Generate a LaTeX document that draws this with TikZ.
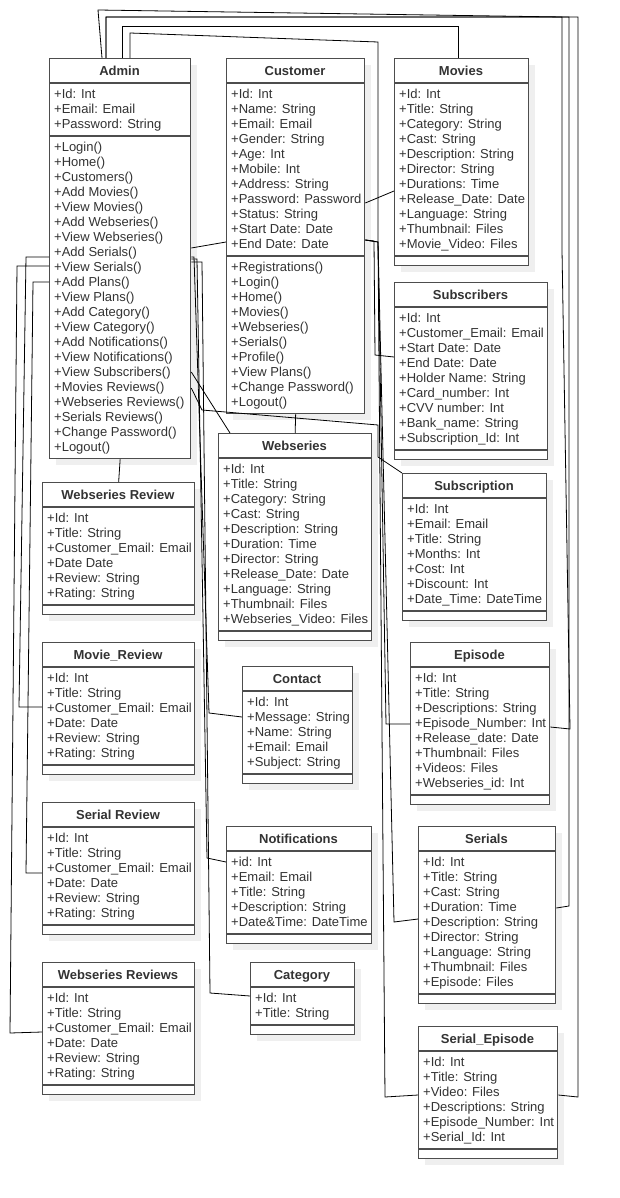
\documentclass[tikz,border=0pt]{standalone}
\usepackage{fontspec}
\setmainfont{Liberation Sans}
\usetikzlibrary{calc}
\definecolor{clsgray}{HTML}{4D4D4D}
\definecolor{txtgray}{HTML}{333333}
\definecolor{shadegray}{HTML}{EFEFEF}
\tikzset{
	clsbox/.style={draw=clsgray, line width=1.3pt, fill=white, inner sep=0pt},
	clsline/.style={draw=clsgray, line width=1.3pt},
	clsshade/.style={fill=shadegray},
	clstitle/.style={font=\fontsize{13}{15}\selectfont\bfseries, text=txtgray, inner sep=0pt, anchor=base},
	clstext/.style={font=\fontsize{13}{15}\selectfont, text=txtgray, align=left, inner sep=0pt, anchor=north west, execute at begin node=\strut},
	conn/.style={draw=black, line width=0.8pt},
}
% name, x, y, width, attribute height, method height, title, attributes, methods
\newcommand{\umlclass}[9]{%
	\fill[clsshade] (#2+7,#3+7) rectangle ++(#4,25+#5+#6);
	\node[clsbox, minimum width=#4, minimum height=25+#5+#6, anchor=north west] (#1) at (#2,#3) {};
	\draw[clsline] (#2,#3+25) -- ++(#4,0);
	\draw[clsline] (#2,#3+25+#5) -- ++(#4,0);
	\node[clstitle] at (#2+#4/2,#3+17.5) {#7};
	\node[clstext] at (#2+5,#3+31) {#8};
	\node[clstext] at (#2+5,#3+31+#5) {#9};
}
\begin{document}
\begin{tikzpicture}[x=1pt, y=-1pt]
		\useasboundingbox[fill=white] (0,0) rectangle (619,1198);

		\umlclass{admin}{49}{58}{141}{53}{322}{Admin}{+Id: Int\\+Email: Email\\+Password: String}{+Login()\\+Home()\\+Customers()\\+Add Movies()\\+View Movies()\\+Add Webseries()\\+View Webseries()\\+Add Serials()\\+View Serials()\\+Add Plans()\\+View Plans()\\+Add Category()\\+View Category()\\+Add Notifications()\\+View Notifications()\\+View Subscribers()\\+Movies Reviews()\\+Webseries Reviews()\\+Serials Reviews()\\+Change Password()\\+Logout()}
		\umlclass{customer}{226}{58}{138}{173}{157}{Customer}{+Id: Int\\+Name: String\\+Email: Email\\+Gender: String\\+Age: Int\\+Mobile: Int\\+Address: String\\+Password: Password\\+Status: String\\+Start Date: Date\\+End Date: Date}{+Registrations()\\+Login()\\+Home()\\+Movies()\\+Webseries()\\+Serials()\\+Profile()\\+View Plans()\\+Change Password()\\+Logout()}
		\umlclass{movies}{394}{58}{134}{173}{9}{Movies}{+Id: Int\\+Title: String\\+Category: String\\+Cast: String\\+Description: String\\+Director: String\\+Durations: Time\\+Release\_Date: Date\\+Language: String\\+Thumbnail: Files\\+Movie\_Video: Files}{}
		\umlclass{subscribers}{394}{282}{153}{143}{9}{Subscribers}{+Id: Int\\+Customer\_Email: Email\\+Start Date: Date\\+End Date: Date\\+Holder Name: String\\+Card\_number: Int\\+CVV number: Int\\+Bank\_name: String\\+Subscription\_Id: Int}{}
		\umlclass{webseries}{218}{433}{153}{173}{9}{Webseries}{+Id: Int\\+Title: String\\+Category: String\\+Cast: String\\+Description: String\\+Duration: Time\\+Director: String\\+Release\_Date: Date\\+Language: String\\+Thumbnail: Files\\+Webseries\_Video: Files}{}
		\umlclass{subscription}{402}{473}{144}{113}{9}{Subscription}{+Id: Int\\+Email: Email\\+Title: String\\+Months: Int\\+Cost: Int\\+Discount: Int\\+Date\_Time: DateTime}{}
		\umlclass{wsreview}{42}{482}{152}{98}{9}{Webseries Review}{+Id: Int\\+Title: String\\+Customer\_Email: Email\\+Date Date\\+Review: String\\+Rating: String}{}
		\umlclass{moviereview}{42}{642}{152}{98}{9}{Movie\_Review}{+Id: Int\\+Title: String\\+Customer\_Email: Email\\+Date: Date\\+Review: String\\+Rating: String}{}
		\umlclass{contact}{242}{666}{110}{83}{9}{Contact}{+Id: Int\\+Message: String\\+Name: String\\+Email: Email\\+Subject: String}{}
		\umlclass{episode}{410}{642}{139}{128}{9}{Episode}{+Id: Int\\+Title: String\\+Descriptions: String\\+Episode\_Number: Int\\+Release\_date: Date\\+Thumbnail: Files\\+Videos: Files\\+Webseries\_id: Int}{}
		\umlclass{serialreview}{42}{802}{152}{98}{9}{Serial Review}{+Id: Int\\+Title: String\\+Customer\_Email: Email\\+Date: Date\\+Review: String\\+Rating: String}{}
		\umlclass{notifications}{226}{826}{145}{83}{9}{Notifications}{+id: Int\\+Email: Email\\+Title: String\\+Description: String\\+Date\&Time: DateTime}{}
		\umlclass{serials}{418}{826}{137}{143}{9}{Serials}{+Id: Int\\+Title: String\\+Cast: String\\+Duration: Time\\+Description: String\\+Director: String\\+Language: String\\+Thumbnail: Files\\+Episode: Files}{}
		\umlclass{wsreviews}{42}{962}{152}{98}{9}{Webseries Reviews}{+Id: Int\\+Title: String\\+Customer\_Email: Email\\+Date: Date\\+Review: String\\+Rating: String}{}
		\umlclass{category}{250}{962}{104}{38}{9}{Category}{+Id: Int\\+Title: String}{}
		\umlclass{serialepisode}{418}{1026}{139}{98}{9}{Serial\_Episode}{+Id: Int\\+Title: String\\+Video: Files\\+Descriptions: String\\+Episode\_Number: Int\\+Serial\_Id: Int}{}

		\draw [conn] (102,0 |- admin.north) -- (98,10) -- (562,17) -- (562,250) -- (570,729) -- (episode.east |- 0,727);
		\draw [conn] (106,0 |- admin.north) -- (106,17) -- (569,17) -- (569,906) -- (serials.east |- 0,908);
		\draw [conn] (106,0 |- admin.north) -- (106,17) -- (578,17) -- (578,1097) -- (serialepisode.east |- 0,1095);
		\draw [conn] (122,0 |- admin.north) -- (122,26) -- (458,26) -- (458,0 |- movies.north);
		\draw [conn] (130,0 |- admin.north) -- (130,33) -- (378,42) -- (378,242) -- (394,922) -- (serials.west |- 0,919);
		\draw [conn] (customer.east |- 0,240) -- (378,242) -- (386,724) -- (episode.west |- 0,724);
		\draw [conn] (customer.east |- 0,240) -- (378,242) -- (385,1097) -- (serialepisode.west |- 0,1095);
		\draw [conn] (customer.east |- 0,240) -- (374,241) -- (375,355) -- (subscribers.west |- 0,357);
		\draw [conn] (customer.east |- 0,203) -- (movies.west |- 0,191);
		\draw [conn] (admin.east |- 0,248) -- (customer.west |- 0,242);
		\draw [conn] (customer.south) -- (webseries.north);
		\draw [conn] (admin.south) -- (wsreview.north);
		\draw [conn] (admin.east |- 0,372) -- (230,0 |- webseries.north);
		\draw [conn] (admin.east |- 0,388) -- (202,410) -- (378,425) -- (378,457) -- (subscription.north west);
		\draw [conn] (admin.west |- 0,257) -- (26,257) -- (19,707) -- (moviereview.west |- 0,707);
		\draw [conn] (admin.west |- 0,266) -- (17,266) -- (10,1033) -- (wsreviews.west |- 0,1032);
		\draw [conn] (admin.west |- 0,282) -- (33,282) -- (26,873) -- (serialreview.west |- 0,873);
		\draw [conn] (admin.east |- 0,257) -- (194,257) -- (209,713) -- (contact.west |- 0,717);
		\draw [conn] (admin.east |- 0,259) -- (197,259) -- (207,858) -- (notifications.west |- 0,862);
		\draw [conn] (admin.east |- 0,262) -- (202,262) -- (210,993) -- (category.west |- 0,996);
\end{tikzpicture}
\end{document}
